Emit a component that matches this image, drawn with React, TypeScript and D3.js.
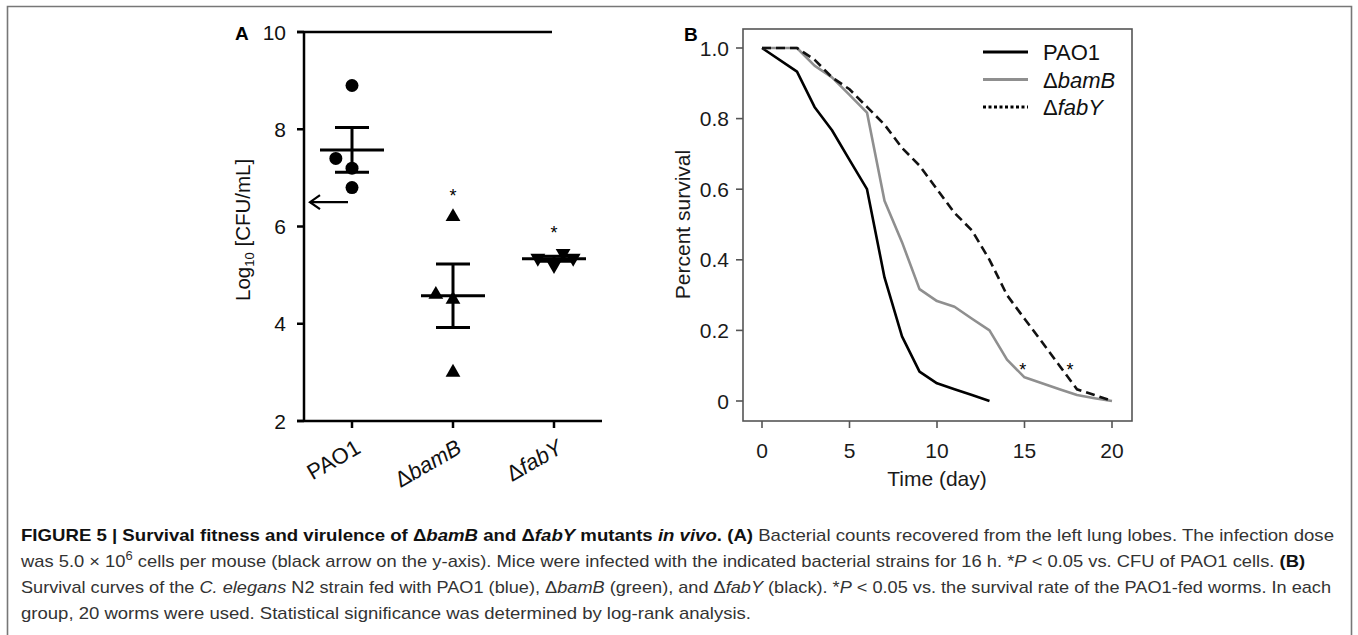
import React from 'react';
import * as d3 from 'd3';

// Panel A: log10 CFU per group (each dot one mouse)
const groups = ['PAO1', 'bamB', 'fabY'];
const pao1Cfu = [8.9, 7.4, 7.2, 6.8];
const bamBCfu = [6.2, 4.6, 4.5, 3.0];
const fabYCfu = [5.35, 5.2, 5.45, 5.35];
const pao1Jitter = [0, -0.16, 0, 0];
const bamBJitter = [0, -0.17, 0, 0];
const fabYJitter = [-0.16, 0, 0.09, 0.19];
const doseLog = 6.5;
const cfuTicks = [2, 4, 6, 8, 10];
const starGroups = ['bamB', 'fabY'];

// Panel B: survival curves
const pao1Days = [0, 2, 3, 4, 5, 6, 7, 8, 9, 10, 11, 12, 13];
const pao1Surv = [1, 0.933, 0.833, 0.767, 0.683, 0.6, 0.35, 0.183, 0.083, 0.05, 0.033, 0.017, 0];
const bamBDays = [0, 2, 3, 4, 5, 6, 7, 8, 9, 10, 11, 12, 13, 14, 15, 16, 17, 18, 19, 20];
const bamBSurv = [1, 1, 0.95, 0.917, 0.867, 0.817, 0.567, 0.45, 0.317, 0.283, 0.267, 0.233, 0.2, 0.117, 0.067, 0.05, 0.033, 0.017, 0.008, 0];
const fabYDays = [0, 2, 3, 4, 5, 6, 7, 8, 9, 10, 11, 12, 13, 14, 15, 16, 17, 18, 19, 20];
const fabYSurv = [1, 1, 0.967, 0.917, 0.883, 0.833, 0.783, 0.717, 0.667, 0.6, 0.533, 0.483, 0.4, 0.3, 0.233, 0.167, 0.1, 0.033, 0.017, 0];
const timeTicks = [0, 5, 10, 15, 20];
const survTicks = [0, 0.2, 0.4, 0.6, 0.8, 1.0];
const survTickLabels = ['0', '0.2', '0.4', '0.6', '0.8', '1.0'];
const starDays = [14.9, 17.6];
const starSurv = 0.1;

const FONT = "'Liberation Sans', Arial, Helvetica, sans-serif";
const GRAY = '#8f8f8f';

const Delta = ({ name }: { name: string }) =>
  name === 'PAO1' ? <tspan>PAO1</tspan> : (
    <>
      <tspan>Δ</tspan>
      <tspan fontStyle="italic">{name}</tspan>
    </>
  );

function PanelA() {
  const x = d3.scalePoint<string>().domain(groups).range([352, 554]);
  const y = d3.scaleLinear().domain([2, 10]).range([421, 32]);
  const step = x.step();
  const left = 304;
  const right = 602;
  const topRight = 552;

  const sets = [
    { g: 'PAO1', v: pao1Cfu, j: pao1Jitter, shape: 'circle' },
    { g: 'bamB', v: bamBCfu, j: bamBJitter, shape: 'up' },
    { g: 'fabY', v: fabYCfu, j: fabYJitter, shape: 'down' },
  ];
  const tri = d3.symbol(d3.symbolTriangle, 95)() as string;

  return (
    <g fontFamily={FONT}>
      <text x={235} y={40} fontSize={19} fontWeight="bold">A</text>
      {/* axes */}
      <line x1={left} x2={left} y1={y(10)} y2={y(2)} stroke="#000" strokeWidth={2.5} />
      <line x1={left - 7} x2={topRight} y1={y(10)} y2={y(10)} stroke="#000" strokeWidth={2.5} />
      <line x1={left - 7} x2={right} y1={y(2)} y2={y(2)} stroke="#000" strokeWidth={2.5} />
      {cfuTicks.map(t => (
        <g key={t}>
          <line x1={left - 7} x2={left} y1={y(t)} y2={y(t)} stroke="#000" strokeWidth={2.5} />
          <text x={286} y={y(t) + 7.5} fontSize={21} textAnchor="end" fill="#111">{t}</text>
        </g>
      ))}
      {groups.map(g => (
        <g key={g}>
          <line x1={x(g)} x2={x(g)} y1={y(2)} y2={y(2) + 7} stroke="#000" strokeWidth={2.5} />
          <text
            transform={`translate(${(x(g) as number) + 10},${y(2) + 31}) rotate(-30)`}
            fontSize={22}
            textAnchor="end"
            fill="#111"
          >
            <Delta name={g} />
          </text>
        </g>
      ))}
      <text transform={`translate(250,${y(5.93)}) rotate(-90)`} fontSize={20.5} textAnchor="middle" fill="#111">
        Log<tspan fontSize={13} dy={4}>10</tspan>
        <tspan dy={-4}> [CFU/mL]</tspan>
      </text>

      {/* points, mean and SEM */}
      {sets.map(s => {
        const cx = x(s.g) as number;
        const m = d3.mean(s.v) as number;
        const sem = (d3.deviation(s.v) as number) / Math.sqrt(s.v.length);
        return (
          <g key={s.g}>
            {s.v.map((v, i) => {
              const px = cx + s.j[i] * step;
              const py = y(v);
              if (s.shape === 'circle') return <circle key={i} cx={px} cy={py} r={6.5} fill="#000" />;
              return (
                <path
                  key={i}
                  d={tri}
                  transform={`translate(${px},${py}) rotate(${s.shape === 'down' ? 180 : 0})`}
                  fill="#000"
                />
              );
            })}
            <line x1={cx - 32} x2={cx + 32} y1={y(m)} y2={y(m)} stroke="#000" strokeWidth={3} />
            <line x1={cx} x2={cx} y1={y(m + sem)} y2={y(m - sem)} stroke="#000" strokeWidth={3} />
            <line x1={cx - 17} x2={cx + 17} y1={y(m + sem)} y2={y(m + sem)} stroke="#000" strokeWidth={3} />
            <line x1={cx - 17} x2={cx + 17} y1={y(m - sem)} y2={y(m - sem)} stroke="#000" strokeWidth={3} />
          </g>
        );
      })}
      {starGroups.map(g => {
        const vals = g === 'bamB' ? bamBCfu : fabYCfu;
        return (
          <text key={g} x={x(g)} y={y((d3.max(vals) as number) + 0.5) + 10} fontSize={18} textAnchor="middle">*</text>
        );
      })}
      {/* infection dose arrow */}
      <g stroke="#000" strokeWidth={2.2} fill="none">
        <line x1={left + 6} x2={left + 44} y1={y(doseLog)} y2={y(doseLog)} />
        <polyline points={`${left + 16},${y(doseLog) - 7} ${left + 6},${y(doseLog)} ${left + 16},${y(doseLog) + 7}`} />
      </g>
    </g>
  );
}

function PanelB() {
  const x = d3.scaleLinear().domain([0, 20]).range([762, 1112]);
  const y = d3.scaleLinear().domain([0, 1]).range([401, 48]);
  const box = { x0: 743, x1: 1132, y0: 29, y1: 421 };
  const line = (days: number[], surv: number[]) =>
    d3.line<number>().x((_, i) => x(days[i])).y(d => y(d))(surv) as string;

  const legend = [
    { label: 'PAO1', stroke: '#000', dash: undefined as string | undefined },
    { label: 'bamB', stroke: GRAY, dash: undefined },
    { label: 'fabY', stroke: '#000', dash: '3,2.5' },
  ];

  return (
    <g fontFamily={FONT}>
      <text x={684} y={41} fontSize={19} fontWeight="bold">B</text>
      <rect x={box.x0} y={box.y0} width={box.x1 - box.x0} height={box.y1 - box.y0} fill="none" stroke="#555" strokeWidth={1.6} />
      {survTicks.map((t, i) => (
        <g key={t}>
          <line x1={box.x0 - 7} x2={box.x0} y1={y(t)} y2={y(t)} stroke="#555" strokeWidth={1.6} />
          <text x={729} y={y(t) + 7.5} fontSize={21} textAnchor="end" fill="#1a1a1a">{survTickLabels[i]}</text>
        </g>
      ))}
      {timeTicks.map(t => (
        <g key={t}>
          <line x1={x(t)} x2={x(t)} y1={box.y1} y2={box.y1 + 7} stroke="#555" strokeWidth={1.6} />
          <text x={x(t)} y={458} fontSize={21} textAnchor="middle" fill="#1a1a1a">{t}</text>
        </g>
      ))}
      <text x={x(10)} y={486} fontSize={21} textAnchor="middle" fill="#1a1a1a">Time (day)</text>
      <text transform={`translate(690,${y(0.5)}) rotate(-90)`} fontSize={21} textAnchor="middle" fill="#1a1a1a">Percent survival</text>

      <path d={line(pao1Days, pao1Surv)} fill="none" stroke="#000" strokeWidth={2.6} strokeLinejoin="round" />
      <path d={line(bamBDays, bamBSurv)} fill="none" stroke={GRAY} strokeWidth={2.6} strokeLinejoin="round" />
      <path d={line(fabYDays, fabYSurv)} fill="none" stroke="#111" strokeWidth={2.6} strokeDasharray="9,5" />
      {starDays.map(d => (
        <text key={d} x={x(d)} y={y(starSurv) + 10} fontSize={18} textAnchor="middle">*</text>
      ))}

      {legend.map((l, i) => (
        <g key={l.label} transform={`translate(983,${52 + i * 27.5})`}>
          <line x1={0} x2={45} y1={0} y2={0} stroke={l.stroke} strokeWidth={2.8} strokeDasharray={l.dash} />
          <text x={60} y={8} fontSize={22} fill="#111">
            <Delta name={l.label} />
          </text>
        </g>
      ))}
    </g>
  );
}

function Caption() {
  const fs = 17;
  const x0 = 21;
  return (
    <g fontFamily={FONT} fontSize={fs} fill="#333">
      <text x={x0} y={541} textLength={1313} lengthAdjust="spacingAndGlyphs">
        <tspan fontWeight="bold" fill="#111">FIGURE 5 | Survival fitness and virulence of Δ</tspan>
        <tspan fontWeight="bold" fontStyle="italic" fill="#111">bamB</tspan>
        <tspan fontWeight="bold" fill="#111"> and Δ</tspan>
        <tspan fontWeight="bold" fontStyle="italic" fill="#111">fabY</tspan>
        <tspan fontWeight="bold" fill="#111"> mutants </tspan>
        <tspan fontWeight="bold" fontStyle="italic" fill="#111">in vivo</tspan>
        <tspan fontWeight="bold" fill="#111">. (A)</tspan>
        <tspan> Bacterial counts recovered from the left lung lobes. The infection dose</tspan>
      </text>
      <text x={x0} y={567} textLength={1284} lengthAdjust="spacingAndGlyphs">
        <tspan>was 5.0 × 10</tspan>
        <tspan fontSize={12} dy={-7}>6</tspan>
        <tspan dy={7}> cells per mouse (black arrow on the y-axis). Mice were infected with the indicated bacterial strains for 16 h. *</tspan>
        <tspan fontStyle="italic">P</tspan>
        <tspan> &lt; 0.05 vs. CFU of PAO1 cells. </tspan>
        <tspan fontWeight="bold" fill="#111">(B)</tspan>
      </text>
      <text x={x0} y={593} textLength={1310} lengthAdjust="spacingAndGlyphs">
        <tspan>Survival curves of the </tspan>
        <tspan fontStyle="italic">C. elegans</tspan>
        <tspan> N2 strain fed with PAO1 (blue), Δ</tspan>
        <tspan fontStyle="italic">bamB</tspan>
        <tspan> (green), and Δ</tspan>
        <tspan fontStyle="italic">fabY</tspan>
        <tspan> (black). *</tspan>
        <tspan fontStyle="italic">P</tspan>
        <tspan> &lt; 0.05 vs. the survival rate of the PAO1-fed worms. In each</tspan>
      </text>
      <text x={x0} y={619} textLength={730} lengthAdjust="spacingAndGlyphs">
        group, 20 worms were used. Statistical significance was determined by log-rank analysis.
      </text>
    </g>
  );
}

export default function App() {
  return (
    <svg
      width={1358}
      height={635}
      style={{ position: 'absolute', left: 0, top: 0, background: '#fff' }}
    >
      <rect width={1358} height={635} fill="#fff" />
      <path d="M7.5,640 V6.5 H1351.5 V640" fill="none" stroke="#777" strokeWidth={1.6} />
      <PanelA />
      <PanelB />
      <Caption />
    </svg>
  );
}
